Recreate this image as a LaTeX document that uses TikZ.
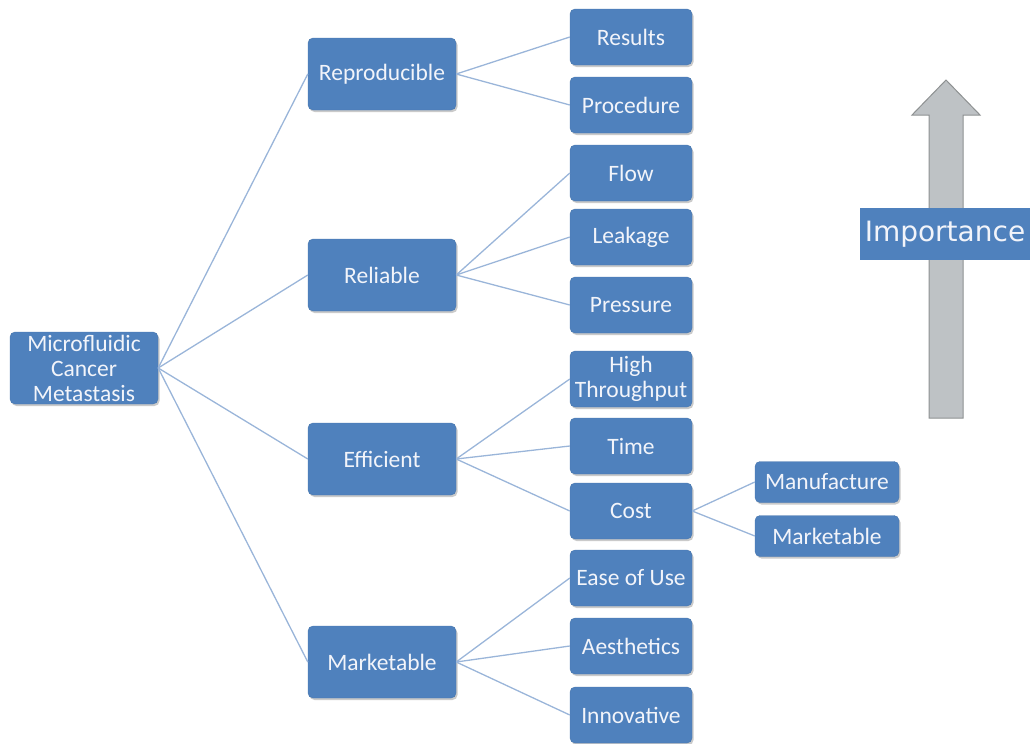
\documentclass[tikz,border=0pt]{standalone}
\usepackage{fontspec}
\setmainfont{Carlito}
\newfontfamily\impfont{DejaVu Sans}
\usetikzlibrary{shadows}
\definecolor{boxblue}{HTML}{4F81BD}
\definecolor{linkblue}{HTML}{9AB5D9}
\definecolor{arrowgray}{HTML}{BEC2C5}
\definecolor{arrowedge}{HTML}{8E9192}
\definecolor{txtwhite}{HTML}{F2F4FA}
\begin{document}
\begin{tikzpicture}[x=1pt,y=-1pt,
  box/.style={draw=boxblue!92!black, line width=0.4pt, fill=boxblue, rounded corners=5pt,
    text=txtwhite, align=center, inner sep=0pt,
    font=\fontsize{23.5}{25}\selectfont,
    drop shadow={shadow xshift=1.5pt, shadow yshift=-2pt, opacity=0.35, fill=black!60}},
  mainbox/.style={box, minimum width=148pt, minimum height=72pt},
  leafbox/.style={box, minimum width=122pt, minimum height=56pt},
  subbox/.style={box, minimum width=144pt, minimum height=41pt},
  link/.style={draw=linkblue, line width=1.3pt}]
\useasboundingbox (0,0) rectangle (1036,744);

% importance arrow
\draw[fill=arrowgray, draw=arrowedge, line width=1pt]
  (929,418) -- (929,115) -- (912,115) -- (946,80) -- (980,115) -- (963,115) -- (963,418) -- cycle;
\node[fill=boxblue, text=txtwhite, minimum width=170pt, minimum height=52pt, inner sep=0pt,
  font=\impfont\fontsize{28}{32}\selectfont] (imp) at (945,234) {Importance};

% nodes
\node[mainbox] (root) at (84,368) {Microfluidic\\Cancer\\Metastasis};
\node[mainbox] (rep) at (382,74) {Reproducible};
\node[mainbox] (rel) at (382,275) {Reliable};
\node[mainbox] (eff) at (382,459) {Efficient};
\node[mainbox] (mkt) at (382,662) {Marketable};

\node[leafbox] (res) at (631,37) {Results};
\node[leafbox] (proc) at (631,105) {Procedure};
\node[leafbox] (flow) at (631,173) {Flow};
\node[leafbox] (leak) at (631,237) {Leakage};
\node[leafbox] (pres) at (631,305) {Pressure};
\node[leafbox] (high) at (631,379) {High\\Throughput};
\node[leafbox] (time) at (631,446) {Time};
\node[leafbox] (cost) at (631,511) {Cost};
\node[leafbox] (ease) at (631,578) {Ease of Use};
\node[leafbox] (aest) at (631,646) {Aesthetics};
\node[leafbox] (inno) at (631,715) {Innovative};

\node[subbox] (manu) at (827,482) {Manufacture};
\node[subbox] (mkt2) at (827,536) {Marketable};

% connectors
\foreach \t in {rep,rel,eff,mkt} \draw[link] (root.east) -- (\t.west);
\foreach \t in {res,proc} \draw[link] (rep.east) -- (\t.west);
\foreach \t in {flow,leak,pres} \draw[link] (rel.east) -- (\t.west);
\foreach \t in {high,time,cost} \draw[link] (eff.east) -- (\t.west);
\foreach \t in {ease,aest,inno} \draw[link] (mkt.east) -- (\t.west);
\foreach \t in {manu,mkt2} \draw[link] (cost.east) -- (\t.west);
\end{tikzpicture}
\end{document}
